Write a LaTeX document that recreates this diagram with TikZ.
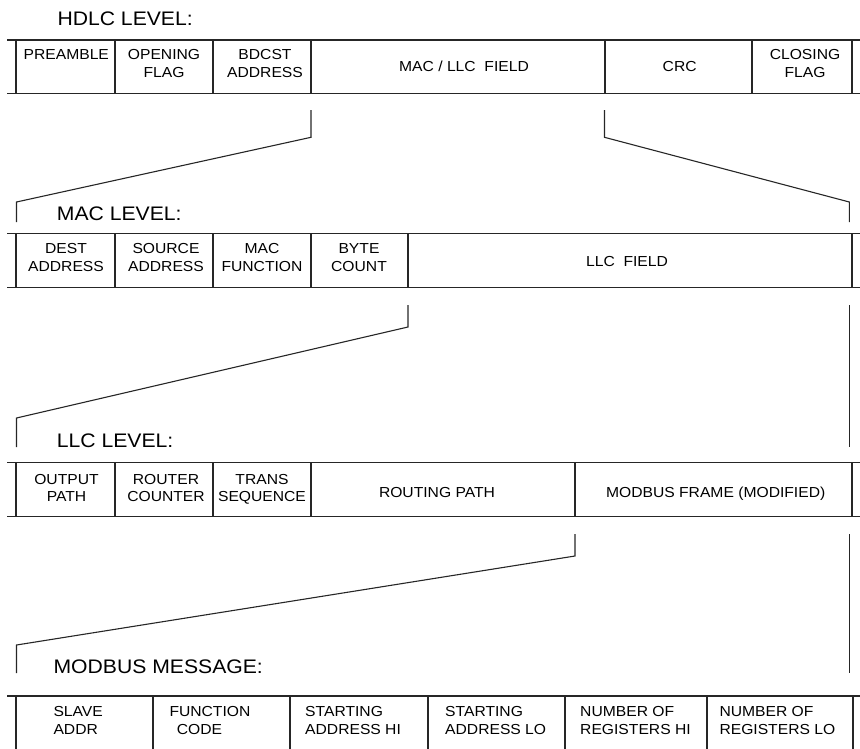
\documentclass[tikz,border=0pt]{standalone}
\usepackage{fontspec}
\setmainfont[FakeStretch=1.08]{Liberation Sans}
\newcommand{\twoline}[2]{\begin{tabular}[t]{@{}l@{}}#1\\[0.3pt]#2\end{tabular}}
\newcommand{\twocent}[2]{\begin{tabular}[t]{@{}c@{}}#1\\[0.3pt]#2\end{tabular}}
\begin{document}
\begin{tikzpicture}[x=1pt,y=-1pt,
  rule/.style={line width=1.1pt,draw=black!85},
  conn/.style={line width=1.1pt,draw=black!85,line join=miter},
  head/.style={font=\fontsize{19.6}{22}\selectfont,anchor=base west,inner sep=0pt},
  cell/.style={font=\fontsize{14.5}{17.5}\selectfont,anchor=base west,inner sep=0pt},
  ccell/.style={font=\fontsize{14.5}{17.5}\selectfont,anchor=base,inner sep=0pt}]
\useasboundingbox (0,0) rectangle (860,748);

% ---------- HDLC LEVEL ----------
\node[head] (hH) at (57.3,25) {HDLC LEVEL:};
\draw[rule] (7,40) -- (860,40) (7,93.3) -- (860,93.3);
\foreach \x in {16,115,213,311,605,752,852} \draw[rule] (\x,40) -- (\x,93.3);
\node[ccell] (h1) at (66.3,59.3) {PREAMBLE};
\node[ccell] (h2) at (164,59.3) {\twocent{OPENING}{FLAG}};
\node[ccell] (h3) at (265,59.3) {\twocent{BDCST}{ADDRESS}};
\node[ccell] (h4) at (464,71) {MAC / LLC\ \ FIELD};
\node[ccell] (h5) at (679.7,71) {CRC};
\node[ccell] (h6) at (805,59.3) {\twocent{CLOSING}{FLAG}};

% ---------- MAC LEVEL ----------
\node[head] (hM) at (56.7,220) {MAC LEVEL:};
\draw[rule] (7,233.3) -- (860,233.3) (7,287.3) -- (860,287.3);
\foreach \x in {16,115,213,311,408,852} \draw[rule] (\x,233.3) -- (\x,287.3);
\node[ccell] (m1) at (66,253.3) {\twocent{DEST}{ADDRESS}};
\node[ccell] (m2) at (166,253.3) {\twocent{SOURCE}{ADDRESS}};
\node[ccell] (m3) at (262,253.3) {\twocent{MAC}{FUNCTION}};
\node[ccell] (m4) at (359,253.3) {\twocent{BYTE}{COUNT}};
\node[ccell] (m5) at (627,266.2) {LLC\ \ FIELD};

% ---------- LLC LEVEL ----------
\node[head] (hL) at (56.7,447.3) {LLC LEVEL:};
\draw[rule] (7,462.7) -- (860,462.7) (7,516.7) -- (860,516.7);
\foreach \x in {16,115,213,311,575,852} \draw[rule] (\x,462.7) -- (\x,516.7);
\node[ccell] (l1) at (66.5,484) {\twocent{OUTPUT}{PATH}};
\node[ccell] (l2) at (166,484) {\twocent{ROUTER}{COUNTER}};
\node[ccell] (l3) at (262,484) {\twocent{TRANS\hspace{6pt}}{SEQUENCE}};
\node[ccell] (l4) at (437,497) {ROUTING PATH};
\node[ccell] (l5) at (715.7,497) {MODBUS FRAME (MODIFIED)};

% ---------- MODBUS MESSAGE ----------
\node[head] (hB) at (53.3,673.3) {MODBUS MESSAGE:};
\draw[rule] (7,696) -- (860,696);
\foreach \x in {16,153,290,428,565,707,853} \draw[rule] (\x,696) -- (\x,749);
\node[cell] (b1) at (53.3,716.7) {\twoline{SLAVE}{ADDR}};
\node[cell] (b2) at (169.3,716.7) {\twoline{FUNCTION}{\hspace{7.4pt}CODE}};
\node[cell] (b3) at (305,716.7) {\twoline{STARTING}{ADDRESS HI}};
\node[cell] (b4) at (445,716.7) {\twoline{STARTING}{ADDRESS LO}};
\node[cell] (b5) at (580,716.7) {\twoline{NUMBER OF}{REGISTERS HI}};
\node[cell] (b6) at (719.3,716.7) {\twoline{NUMBER OF}{REGISTERS LO}};

% ---------- expansion brackets ----------
\coordinate (a1) at (311,110);   \coordinate (a2) at (311,137.3);
\coordinate (a3) at (16.5,202);  \coordinate (a4) at (16.5,222);
\coordinate (b1c) at (604.5,110); \coordinate (b2c) at (604.5,137.3);
\coordinate (b3c) at (849.3,202); \coordinate (b4c) at (849.3,222);
\draw[conn] (a1) -- (a2) -- (a3) -- (a4);
\draw[conn] (b1c) -- (b2c) -- (b3c) -- (b4c);

\coordinate (c1) at (408,305);   \coordinate (c2) at (408,327);
\coordinate (c3) at (16.5,418);  \coordinate (c4) at (16.5,447);
\coordinate (d1) at (849.3,305); \coordinate (d2) at (849.3,447);
\draw[conn] (c1) -- (c2) -- (c3) -- (c4);
\draw[conn] (d1) -- (d2);

\coordinate (e1) at (575,534);   \coordinate (e2) at (575,556);
\coordinate (e3) at (16.5,645);  \coordinate (e4) at (16.5,673);
\coordinate (f1) at (849.3,534); \coordinate (f2) at (849.3,673);
\draw[conn] (e1) -- (e2) -- (e3) -- (e4);
\draw[conn] (f1) -- (f2);
\end{tikzpicture}
\end{document}
